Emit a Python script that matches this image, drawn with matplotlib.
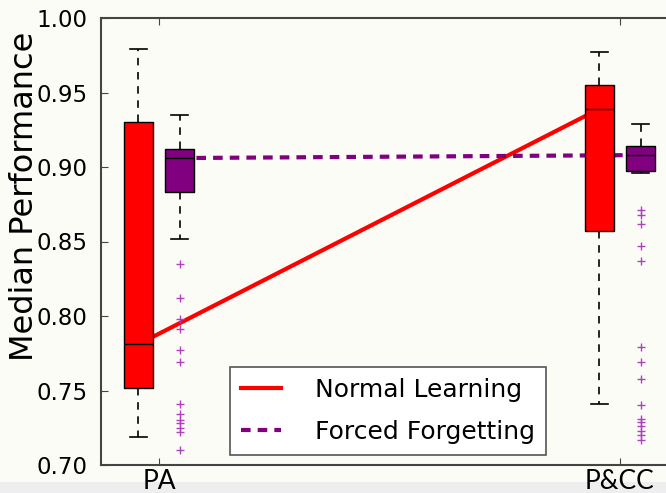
import matplotlib
matplotlib.use("Agg")
import matplotlib.pyplot as plt
from matplotlib.patches import Rectangle

# ---- data ----
groups = ["PA", "P&CC"]
series = ["Normal Learning", "Forced Forgetting"]

normal_whislo = [0.719, 0.741]
normal_q1 = [0.752, 0.857]
normal_med = [0.781, 0.939]
normal_q3 = [0.930, 0.955]
normal_whishi = [0.979, 0.977]

forget_whislo = [0.852, 0.896]
forget_q1 = [0.883, 0.897]
forget_med = [0.906, 0.908]
forget_q3 = [0.912, 0.914]
forget_whishi = [0.935, 0.929]
forget_fliers_pa = [0.835, 0.812, 0.798, 0.791, 0.777, 0.769, 0.741,
                    0.734, 0.730, 0.728, 0.725, 0.722, 0.710]
forget_fliers_pcc = [0.871, 0.868, 0.862, 0.847, 0.837, 0.779, 0.769,
                     0.758, 0.740, 0.731, 0.729, 0.726, 0.723, 0.720, 0.717]

RED = "#ff0000"
PURPLE = "#800080"
FLIER = "#b040c0"
BG = "#fcfcf7"
offset = 0.045
width = 0.063

fig = plt.figure(figsize=(6.66, 4.93), dpi=100, facecolor=BG)
fig.patches.append(Rectangle((0, 0), 1, 11 / 493, transform=fig.transFigure,
                             facecolor="#eeeeee", edgecolor="none", zorder=-1))
ax = fig.add_axes([101.4 / 666, 28 / 493, 576.2 / 666, 447 / 493])
ax.set_facecolor(BG)

pos = [i + 1 for i in range(len(groups))]
pos_n = [p - offset for p in pos]
pos_f = [p + offset for p in pos]

# median lines (behind the boxes)
ax.plot(pos_n, normal_med, color=RED, lw=3, zorder=1, label=series[0])
ax.plot(pos_f, forget_med, color=PURPLE, lw=3, ls=(0, (2.3, 1.7)), zorder=1,
        label=series[1])


def stats(lo, q1, med, q3, hi, fl):
    return [dict(whislo=lo[i], q1=q1[i], med=med[i], q3=q3[i], whishi=hi[i],
                 fliers=fl[i]) for i in range(len(lo))]


common = dict(widths=width, capwidths=width * 0.6, patch_artist=True,
              showfliers=True, zorder=3,
              whiskerprops=dict(color="black", ls=(0, (4.5, 4)), lw=1.2),
              capprops=dict(color="black", lw=1.2),
              medianprops=dict(color="black", lw=1))

ax.bxp(stats(normal_whislo, normal_q1, normal_med, normal_q3, normal_whishi,
             [[], []]),
       positions=pos_n, boxprops=dict(facecolor=RED, edgecolor="black", lw=1),
       flierprops=dict(marker="+", markeredgecolor=RED), **common)
ax.bxp(stats(forget_whislo, forget_q1, forget_med, forget_q3, forget_whishi,
             [forget_fliers_pa, forget_fliers_pcc]),
       positions=pos_f, boxprops=dict(facecolor=PURPLE, edgecolor="black", lw=1),
       flierprops=dict(marker="+", markeredgecolor=FLIER, markersize=6,
                       markeredgewidth=1), **common)

ax.set_xlim(0.875, 2.125)
ax.set_ylim(0.70, 1.00)
ax.set_xticks(pos)
ax.set_xticklabels(groups, family="Lato", fontsize=19)
ax.set_yticks([0.70, 0.75, 0.80, 0.85, 0.90, 0.95, 1.00])
ax.set_yticklabels([f"{v:.2f}" for v in ax.get_yticks()], fontsize=16.5)
ax.tick_params(direction="in", length=5, top=True, right=True, color="#444444")
ax.tick_params(axis="y", pad=10)
ax.tick_params(axis="x", pad=3)
for s in ax.spines.values():
    s.set_color("#444444")
    s.set_linewidth(1.5)

ax.set_ylabel("Median Performance", fontsize=23, va="center")
ax.yaxis.set_label_coords(-0.133, 0.602)

leg = ax.legend(loc="lower left", bbox_to_anchor=(0.223, 0.022),
                borderaxespad=0, fontsize=18, handlelength=1.6,
                fancybox=False, framealpha=1, borderpad=0.44,
                labelspacing=0.72, handletextpad=1.35)
leg.get_frame().set_edgecolor("#555555")
leg.get_frame().set_linewidth(1.2)
leg.get_frame().set_facecolor("white")

fig.savefig("out.png", dpi=100, facecolor=BG)
